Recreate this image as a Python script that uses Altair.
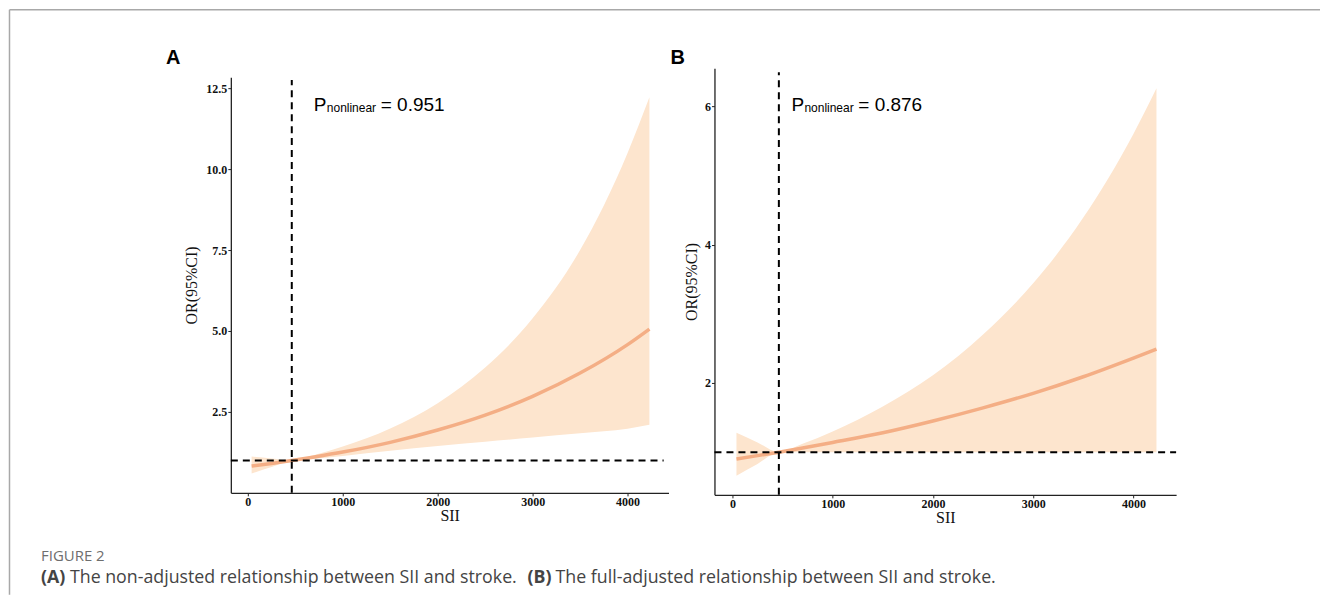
import altair as alt
import pandas as pd

# ---------------- data ----------------
sii = [40, 250, 463, 700, 1000, 1500, 2000, 2500, 3000, 3500, 4000, 4230]

a_or = [0.83, 0.91, 1.0, 1.11, 1.26, 1.56, 1.94, 2.40, 2.98, 3.70, 4.58, 5.06]
a_upper = [1.12, 1.06, 1.0, 1.17, 1.43, 1.99, 2.77, 3.87, 5.39, 7.50, 10.5, 12.22]
a_lower = [0.60, 0.80, 1.0, 1.05, 1.14, 1.30, 1.45, 1.58, 1.71, 1.84, 1.98, 2.10]

b_or = [0.90, 0.95, 1.0, 1.06, 1.14, 1.28, 1.45, 1.64, 1.85, 2.09, 2.36, 2.49]
b_upper = [1.28, 1.14, 1.0, 1.12, 1.30, 1.66, 2.11, 2.70, 3.44, 4.39, 5.60, 6.26]
b_lower = [0.66, 0.83, 1.0, 1.0, 1.0, 1.0, 1.0, 1.0, 1.0, 1.0, 1.0, 1.0]

ref_sii = 463
x_ticks = [0, 1000, 2000, 3000, 4000]
a_y_ticks = [2.5, 5.0, 7.5, 10.0, 12.5]
b_y_ticks = [2, 4, 6]

a_p_text = "= 0.951"
b_p_text = "= 0.876"
caption_head = "FIGURE 2"
caption_a = "(A)"
caption_a_text = "The non-adjusted relationship between SII and stroke."
caption_b = "(B)"
caption_b_text = "The full-adjusted relationship between SII and stroke."

LINE = "#F4AE85"
BAND = "#FDE5CE"
SERIF = "Liberation Serif"
SANS = "Liberation Sans"
CAPFONT = "Open Sans"

one = pd.DataFrame({"k": [0]})


def axis_common(**kw):
    base = dict(
        grid=False,
        labelFont=SERIF, labelFontWeight="bold", labelFontSize=12, labelColor="#111111",
        titleFont=SERIF, titleFontWeight="normal", titleFontSize=16, titleColor="#111111",
        domainColor="#222222", domainWidth=1.3, tickColor="#222222", tickWidth=1, tickSize=3,
        labelPadding=1,
    )
    base.update(kw)
    return alt.Axis(**base)


def panel(or_, lo, hi, xdom, ydom, yrange, yticks, yfmt, ytitle_pad, xoffset,
          vtop, vbottom, hx1, hx2, ptext, px, py, letter, letter_x, width, height, extra=None):
    df = pd.DataFrame({"sii": sii, "or": or_, "lo": lo, "hi": hi})
    xs = alt.Scale(domain=xdom, nice=False, zero=False)
    if yrange is not None:
        ys = alt.Scale(domain=ydom, nice=False, zero=False, range=yrange)
    else:
        ys = alt.Scale(domain=ydom, nice=False, zero=False)
    xax = axis_common(values=x_ticks, format="d", title="SII", titlePadding=0, offset=xoffset)
    yax = axis_common(values=yticks, format=yfmt, title="OR(95%CI)", titlePadding=ytitle_pad,
                      labelAlign="right")

    X = alt.X("sii:Q", scale=xs, axis=xax)
    Ylo = alt.Y("lo:Q", scale=ys, axis=yax)
    Yor = alt.Y("or:Q", scale=ys, axis=yax)

    band = alt.Chart(df).mark_area(color=BAND, opacity=1, interpolate="monotone").encode(
        x=X, y=Ylo, y2="hi")
    line = alt.Chart(df).mark_line(color=LINE, strokeWidth=3.5, interpolate="monotone").encode(
        x=X, y=Yor)

    vdf = pd.DataFrame({"sii": [ref_sii], "lo": [vbottom], "hi": [vtop]})
    vrule = alt.Chart(vdf).mark_rule(color="black", strokeWidth=2, strokeDash=[7, 5]).encode(
        x=X, y=Ylo, y2="hi")
    hdf = pd.DataFrame({"sii": [hx1], "s2": [hx2], "or": [1.0]})
    hrule = alt.Chart(hdf).mark_rule(color="black", strokeWidth=2, strokeDash=[7, 5]).encode(
        x=X, x2="s2", y=Yor)

    tdf = pd.DataFrame({"sii": [px], "or": [py]})
    t_p = alt.Chart(tdf).mark_text(text="P", font=SANS, fontSize=19, align="left",
                                   baseline="alphabetic", color="black").encode(x=X, y=Yor)
    t_sub = alt.Chart(tdf).mark_text(text="nonlinear", font=SANS, fontSize=12, align="left",
                                     baseline="alphabetic", dx=13, dy=1, color="black").encode(x=X, y=Yor)
    t_val = alt.Chart(tdf).mark_text(text=ptext, font=SANS, fontSize=19, align="left",
                                     baseline="alphabetic", dx=67, color="black").encode(x=X, y=Yor)

    lab = alt.Chart(one).mark_text(text=letter, font=SANS, fontSize=20, fontWeight="bold",
                                   align="left", baseline="alphabetic", color="black").encode(
        x=alt.value(letter_x), y=alt.value(-4))

    layers = [band, line, vrule, hrule, t_p, t_sub, t_val, lab]
    if extra:
        layers += extra
    return alt.layer(*layers).properties(width=width, height=height)


# decorations living in panel A's pixel frame (plot origin at page x=230, y=68)
frame_left = alt.Chart(one).mark_rule(color="#a8a8a8", strokeWidth=1.5).encode(
    x=alt.value(-221.5), y=alt.value(-58.5), y2=alt.value(527))
frame_top = alt.Chart(one).mark_rule(color="#a8a8a8", strokeWidth=1.5).encode(
    x=alt.value(-221.5), x2=alt.value(1090), y=alt.value(-58.5))

CAP_Y = 515
CAP_FS = 17.8
cap_head = alt.Chart(one).mark_text(text=caption_head, font=CAPFONT, fontSize=15, color="#6e6e6e",
                                    align="left", baseline="alphabetic").encode(
    x=alt.value(-190), y=alt.value(493))
cap1 = alt.Chart(one).mark_text(text=caption_a, font=CAPFONT, fontSize=CAP_FS, fontWeight="bold",
                                color="#444444", align="left", baseline="alphabetic").encode(
    x=alt.value(-190), y=alt.value(CAP_Y))
cap2 = alt.Chart(one).mark_text(text=caption_a_text, font=CAPFONT, fontSize=CAP_FS, color="#444444",
                                align="left", baseline="alphabetic").encode(
    x=alt.value(-161), y=alt.value(CAP_Y))
cap3 = alt.Chart(one).mark_text(text=caption_b, font=CAPFONT, fontSize=CAP_FS, fontWeight="bold",
                                color="#444444", align="left", baseline="alphabetic").encode(
    x=alt.value(297), y=alt.value(CAP_Y))
cap4 = alt.Chart(one).mark_text(text=caption_b_text, font=CAPFONT, fontSize=CAP_FS, color="#444444",
                                align="left", baseline="alphabetic").encode(
    x=alt.value(325), y=alt.value(CAP_Y))

chart_a = panel(a_or, a_lower, a_upper,
                xdom=[-179, 4431], ydom=[0, 12.84], yrange=[425, 9], yticks=a_y_ticks, yfmt=".1f",
                ytitle_pad=6, xoffset=-2, vtop=12.75, vbottom=0, hx1=-179, hx2=4380,
                ptext=a_p_text, px=695, py=11.79, letter="A", letter_x=-65,
                width=438, height=427,
                extra=[frame_left, frame_top, cap_head, cap1, cap2, cap3, cap4])

chart_b = panel(b_or, b_lower, b_upper,
                xdom=[-179.5, 4426], ydom=[0.383, 6.55], yrange=None, yticks=b_y_ticks, yfmt="d",
                ytitle_pad=5, xoffset=0, vtop=6.49, vbottom=0.383, hx1=-179.5, hx2=4426,
                ptext=b_p_text, px=588, py=5.93, letter="B", letter_x=-44,
                width=462, height=427)

chart = alt.hconcat(chart_a, chart_b, spacing=46, bounds="flush").properties(
    padding=0, background="white"
).configure_view(stroke=None)

chart.save("out.html", embed_options={"renderer": "svg", "actions": False})
